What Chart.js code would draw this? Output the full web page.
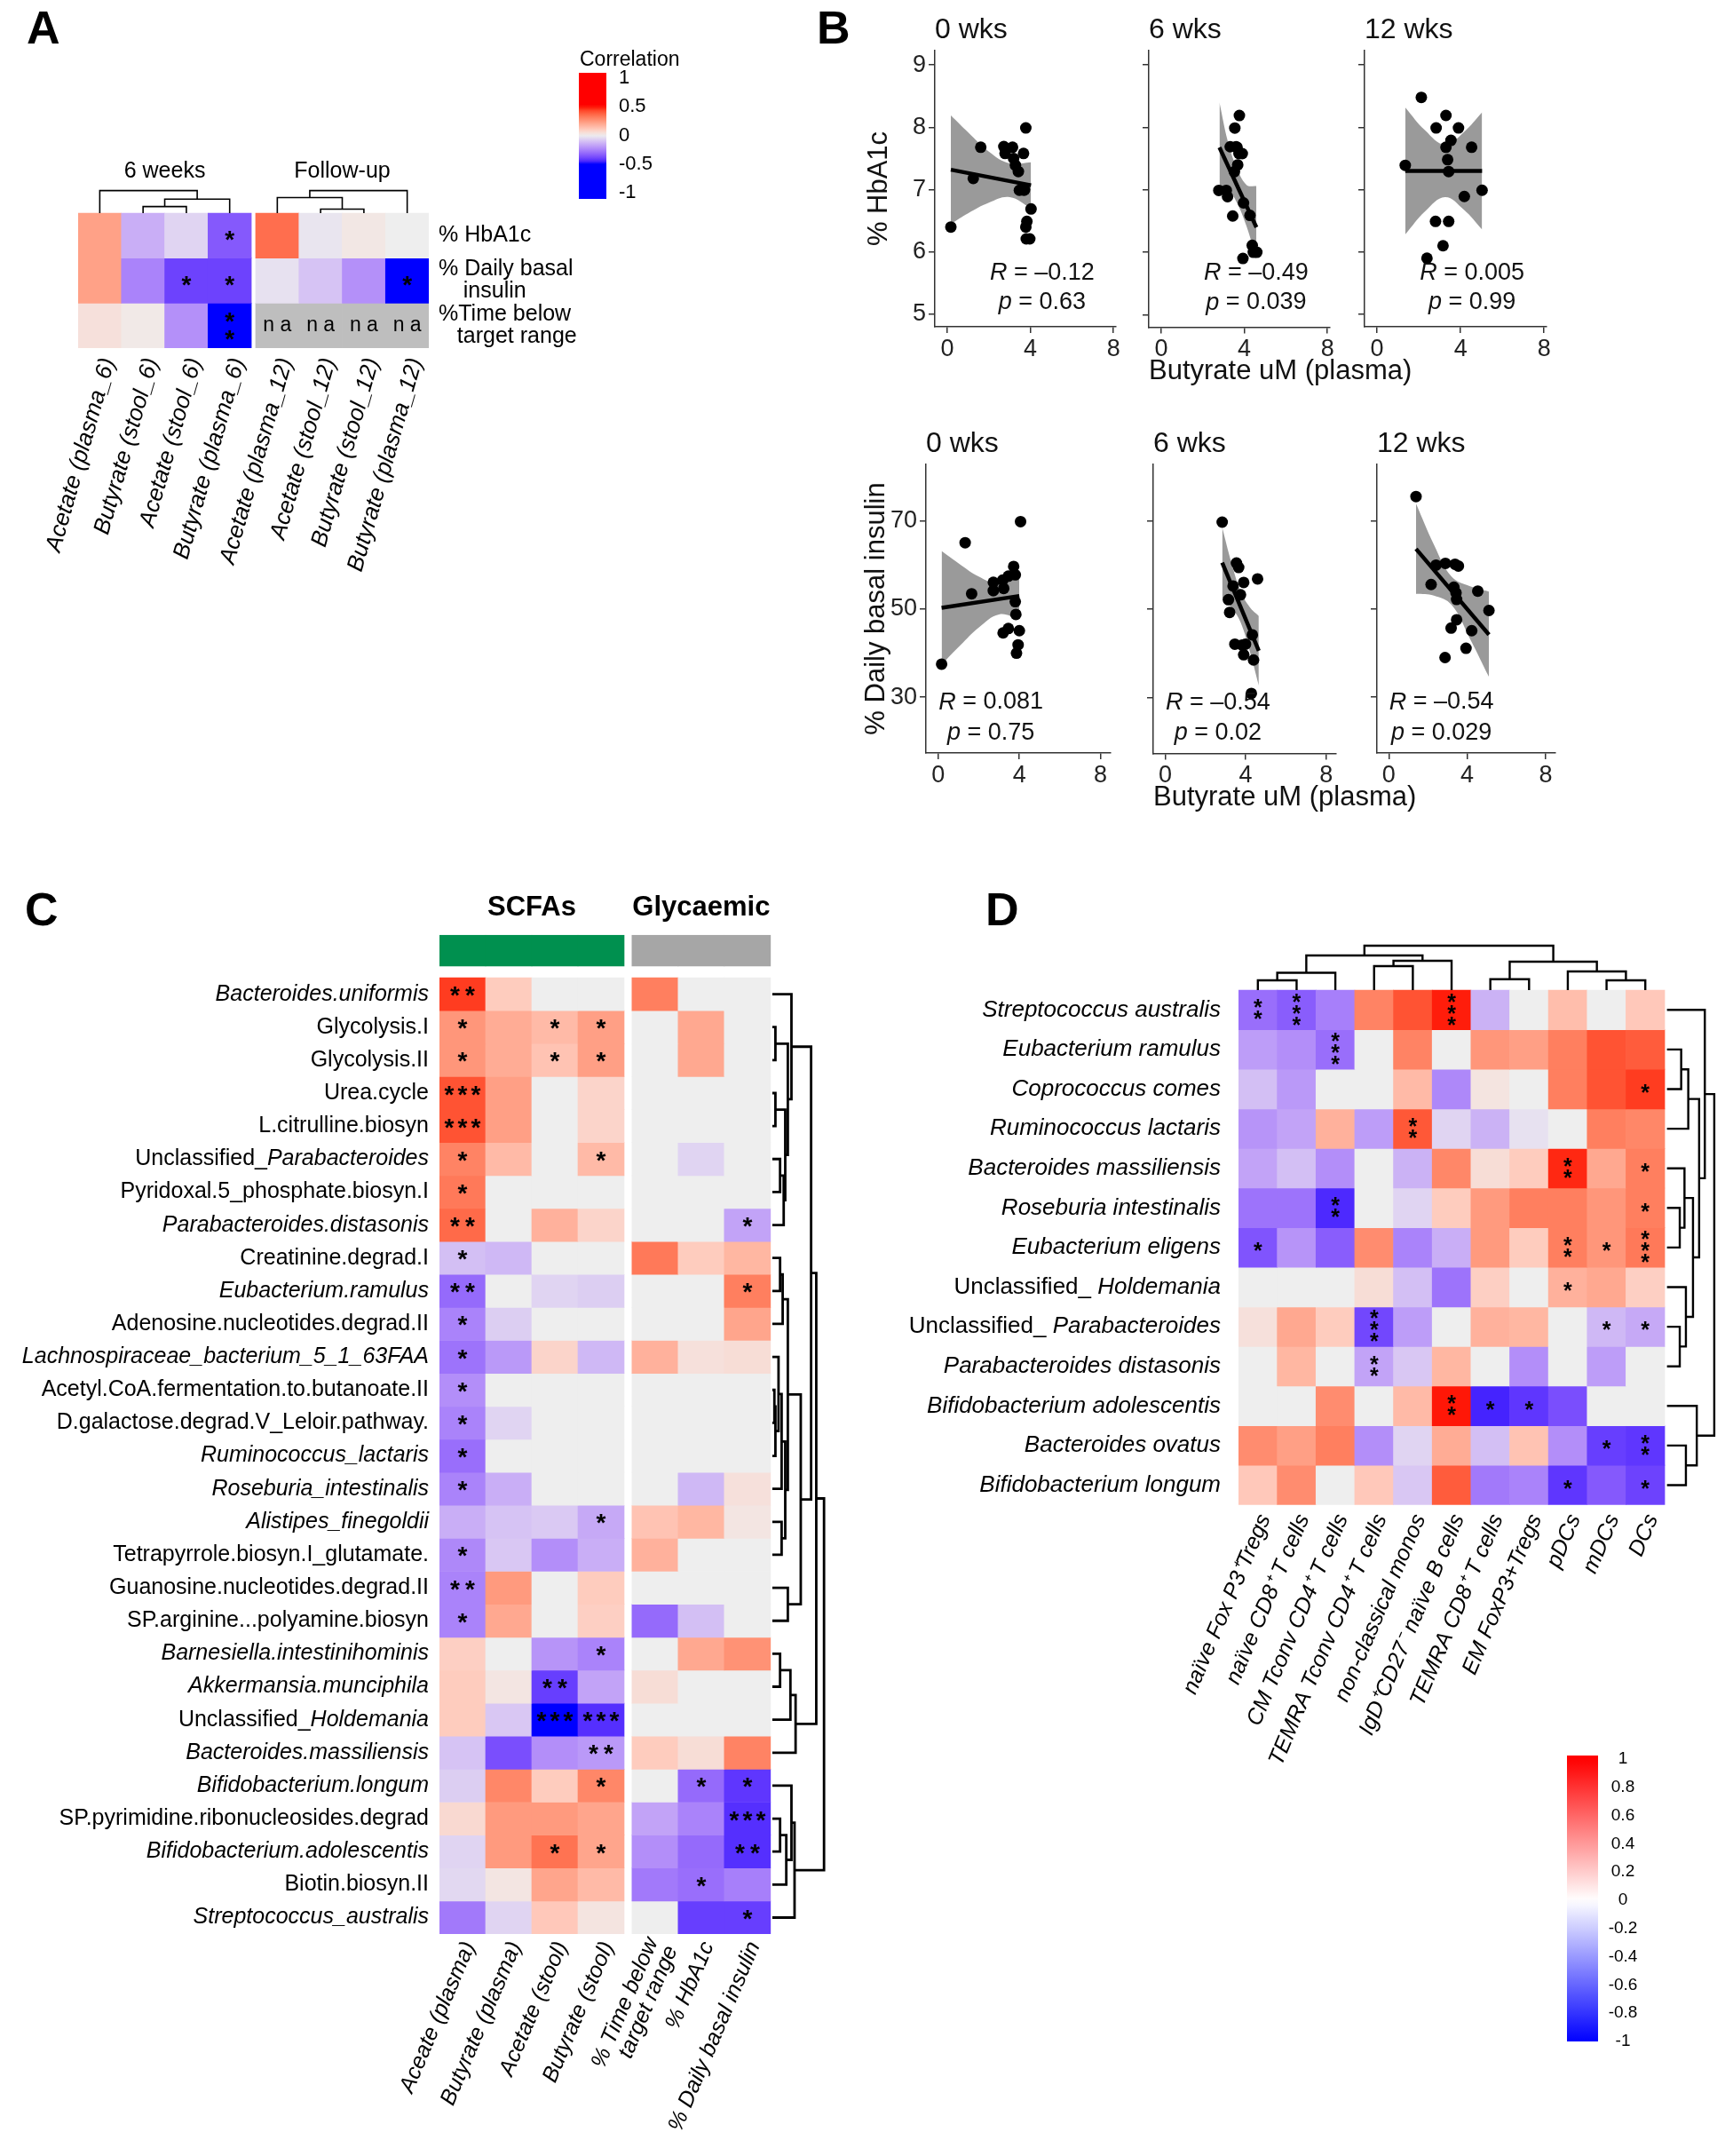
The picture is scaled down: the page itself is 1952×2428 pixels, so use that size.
<!DOCTYPE html>
<html>
<head>
<meta charset="utf-8">
<script src="https://cdn.jsdelivr.net/npm/chart.js@4.4.1/dist/chart.umd.min.js"></script>
<style>
  body { margin: 0; background: #fff; }
  #page { position: relative; width: 1952px; height: 2428px; overflow: hidden; background: #fff;
          font-family: "Liberation Sans", Arial, sans-serif; }
  canvas { position: absolute; }
  .tag { position: absolute; font-weight: bold; font-size: 52px; line-height: 1; color: #000; }
</style>
</head>
<body>
<div id="page">
  <div class="tag" style="left:30px;top:5px">A</div>
  <div class="tag" style="left:920px;top:5px">B</div>
  <div class="tag" style="left:28px;top:998px">C</div>
  <div class="tag" style="left:1110px;top:998px">D</div>
</div>
<script>
// ---------- Panel A: correlation heatmap ----------
const aCols = ["Acetate (plasma_6)", "Butyrate (stool_6)", "Acetate (stool_6)", "Butyrate (plasma_6)",
               "Acetate (plasma_12)", "Acetate (stool_12)", "Butyrate (stool_12)", "Butyrate (plasma_12)"];
const aColGroup = [0, 0, 0, 0, 1, 1, 1, 1];
const aGroups = ["6 weeks", "Follow-up"];
const aRows = ["% HbA1c", "% Daily basal\n    insulin", "%Time below\n   target range"];
const aHbA1c = [0.22, -0.15, -0.06, -0.35, 0.35, -0.02, 0.02, 0.0];
const aBasal = [0.22, -0.25, -0.4, -0.4, -0.03, -0.1, -0.22, -0.55];
const aTimeBelow = [0.04, 0.015, -0.22, -0.6, null, null, null, null];
const aStars = [["", "", "", "*", "", "", "", ""],
                ["", "", "*", "*", "", "", "", "*"],
                ["", "", "", "**", "na", "na", "na", "na"]];
const aTree6wk = [[1, 2, 0.29], [4, 3, 0.62], [0, 5, 1]];
const aTreeFollow = [[1, 2, 0.18], [0, 4, 0.69], [5, 3, 1]];
const aLegendTicks = [1, 0.5, 0, -0.5, -1];

// ---------- Panel B: butyrate vs glycaemic measures ----------
const bWeeks = ["0 wks", "6 wks", "12 wks"];
const bXTicks = [0, 4, 8];
const hbTicks = [5, 6, 7, 8, 9];
const insTicks = [30, 50, 70];
const hb0x = [0.17, 1.25, 1.61, 2.72, 2.78, 3.14, 3.19, 3.28, 3.42, 3.47, 3.67, 3.78, 3.69, 3.83, 3.78, 4.03, 3.97, 3.8, 3.72];
const hb0y = [6.40, 7.18, 7.68, 7.69, 7.58, 7.68, 7.50, 7.39, 7.29, 6.99, 7.58, 7.99, 6.99, 6.49, 6.40, 6.69, 6.21, 6.21, 7.0];
const hb6x = [2.77, 3.13, 3.19, 3.44, 3.32, 3.6, 3.65, 3.74, 3.9, 3.54, 3.76, 3.68, 3.52, 3.96, 4.27, 3.93, 4.38, 4.43, 4.6];
const hb6y = [6.99, 6.99, 6.89, 6.58, 7.69, 7.69, 7.68, 7.58, 7.58, 7.99, 8.19, 7.40, 7.29, 6.79, 6.59, 5.90, 6.11, 6.0, 6.0];
const hb12x = [1.35, 2.12, 2.83, 3.3, 3.9, 3.54, 3.3, 3.38, 3.43, 4.53, 5.03, 4.18, 2.8, 3.43, 3.16, 2.39];
const hb12y = [7.39, 8.48, 7.99, 8.19, 7.99, 7.79, 7.68, 7.48, 7.29, 7.68, 6.99, 6.89, 6.49, 6.49, 6.10, 5.90];
const ins0x = [0.17, 1.33, 1.65, 2.72, 2.72, 3.18, 3.23, 3.46, 3.72, 3.8, 3.8, 3.83, 3.2, 3.46, 4.0, 3.94, 3.86, 4.06];
const ins0y = [37.5, 65.1, 53.5, 56.1, 54.2, 56.6, 54.7, 57.5, 59.7, 57.8, 51.7, 48.8, 44.6, 45.6, 45.1, 41.9, 40.0, 69.9];
const ins6x = [2.83, 3.54, 3.65, 3.9, 4.59, 3.37, 3.74, 3.14, 3.2, 3.46, 3.82, 3.99, 3.9, 4.33, 4.39, 4.28];
const ins6y = [69.8, 60.5, 59.5, 56.1, 56.9, 55.3, 53.3, 52.2, 49.3, 42.1, 41.9, 42.1, 39.7, 44.2, 38.5, 30.9];
const ins12x = [1.39, 2.16, 2.41, 2.89, 3.38, 3.55, 3.32, 3.43, 3.46, 4.54, 5.11, 3.46, 3.18, 4.23, 3.94, 2.87];
const ins12y = [75.6, 55.6, 60.0, 60.4, 60.2, 59.8, 55.0, 53.7, 52.2, 54.1, 49.7, 47.6, 45.7, 45.1, 41.1, 39.0];
const hbFit = [[0.17, 7.32, 4.03, 7.07], [2.8, 7.68, 4.58, 6.40], [1.35, 7.30, 5.03, 7.30]];
const insFit = [[0.17, 50.3, 4.0, 53.0], [2.83, 60.6, 4.65, 40.6], [1.39, 63.7, 5.11, 44.2]];
const hbBandX = [[0.17, 1.0, 2.0, 3.0, 4.03], [2.8, 3.2, 3.6, 4.1, 4.58], [1.35, 2.3, 3.25, 4.15, 5.03]];
const hbBandHi = [[8.19, 7.92, 7.61, 7.42, 7.44], [8.40, 7.78, 7.38, 7.08, 7.06], [8.32, 7.95, 7.72, 7.92, 8.24]];
const hbBandLo = [[6.45, 6.62, 6.79, 6.88, 6.70], [6.96, 7.0, 6.82, 6.42, 5.88], [6.28, 6.65, 6.88, 6.68, 6.36]];
const insBandX = [[0.17, 1.1, 2.0, 3.0, 4.0], [2.83, 3.3, 3.75, 4.2, 4.65], [1.39, 2.3, 3.2, 4.15, 5.11]];
const insBandHi = [[63.2, 60.1, 57.4, 55.8, 58.3], [68.6, 60.4, 54.0, 50.5, 48.5], [74.0, 64.7, 57.4, 55.2, 54.0]];
const insBandLo = [[37.4, 41.8, 45.8, 48.8, 47.7], [52.6, 50.4, 47.0, 40.5, 32.7], [53.5, 53.1, 51.0, 43.2, 34.6]];
const hbR = ["\u20130.12", "\u20130.49", "0.005"];
const hbP = ["0.63", "0.039", "0.99"];
const insR = ["0.081", "\u20130.54", "\u20130.54"];
const insP = ["0.75", "0.02", "0.029"];

// ---------- Panel C: taxa/pathways vs SCFAs and glycaemic measures ----------
const cRows = ["*Bacteroides.uniformis*", "Glycolysis.I", "Glycolysis.II", "Urea.cycle", "L.citrulline.biosyn",
  "Unclassified_*Parabacteroides*", "Pyridoxal.5_phosphate.biosyn.I", "*Parabacteroides.distasonis*",
  "Creatinine.degrad.I", "*Eubacterium.ramulus*", "Adenosine.nucleotides.degrad.II",
  "*Lachnospiraceae_bacterium_5_1_63FAA*", "Acetyl.CoA.fermentation.to.butanoate.II",
  "D.galactose.degrad.V_Leloir.pathway.", "*Ruminococcus_lactaris*", "*Roseburia_intestinalis*",
  "*Alistipes_finegoldii*", "Tetrapyrrole.biosyn.I_glutamate.", "Guanosine.nucleotides.degrad.II",
  "SP.arginine...polyamine.biosyn", "*Barnesiella.intestinihominis*", "*Akkermansia.munciphila*",
  "Unclassified_*Holdemania*", "*Bacteroides.massiliensis*", "*Bifidobacterium.longum*",
  "SP.pyrimidine.ribonucleosides.degrad", "*Bifidobacterium.adolescentis*", "Biotin.biosyn.II",
  "*Streptococcus_australis*"];
const cCols = ["Aceate (plasma)", "Butyrate (plasma)", "Acetate (stool)", "Butyrate (stool)",
               "% Time below\ntarget range", "% HbA1c", "% Daily basal insulin"];
const cColGroup = [0, 0, 0, 0, 1, 1, 1];
const cGroups = ["SCFAs", "Glycaemic"];
const cValues = [
  [0.9, 0.2, 0, 0, 0.62, 0, 0],
  [0.5, 0.38, 0.3, 0.45, 0, 0.4, 0],
  [0.5, 0.38, 0.25, 0.45, 0, 0.4, 0],
  [0.82, 0.45, 0, 0.15, 0, 0, 0],
  [0.82, 0.45, 0, 0.15, 0, 0, 0],
  [0.6, 0.3, 0, 0.3, 0, -0.12, 0],
  [0.65, 0, 0, 0, 0, 0, 0],
  [0.72, 0, 0.35, 0.15, 0, 0, -0.35],
  [-0.22, -0.25, 0, 0, 0.65, 0.2, 0.32],
  [-0.62, 0, -0.12, -0.15, 0, 0, 0.62],
  [-0.5, -0.15, 0, 0, 0, 0, 0.42],
  [-0.58, -0.4, 0.15, -0.25, 0.35, 0.08, 0.1],
  [-0.45, 0, 0, 0, 0, 0, 0],
  [-0.5, -0.12, 0, 0, 0, 0, 0],
  [-0.6, 0, 0, 0, 0, 0, 0],
  [-0.5, -0.3, 0, 0, 0, -0.25, 0.08],
  [-0.3, -0.2, -0.17, -0.32, 0.25, 0.32, 0.05],
  [-0.48, -0.18, -0.45, -0.3, 0.35, 0, 0],
  [-0.5, 0.48, 0, 0.2, 0, 0, 0],
  [-0.5, 0.4, 0, 0.18, -0.62, -0.22, 0],
  [0.18, 0, -0.42, -0.5, 0, 0.4, 0.52],
  [0.2, 0.05, -0.82, -0.35, 0.1, 0, 0],
  [0.2, -0.18, -1, -0.88, 0, 0, 0],
  [-0.2, -0.75, -0.45, -0.4, 0.2, 0.1, 0.6],
  [-0.15, 0.58, 0.2, 0.58, 0, -0.62, -0.85],
  [0.12, 0.48, 0.48, 0.42, -0.35, -0.5, -0.88],
  [-0.12, 0.48, 0.68, 0.42, -0.45, -0.62, -0.88],
  [-0.1, 0.05, 0.42, 0.3, -0.55, -0.6, -0.52],
  [-0.55, -0.12, 0.22, 0.06, 0, -0.82, -0.82]
];
const cStars = [
  ["**", "", "", "", "", "", ""], ["*", "", "*", "*", "", "", ""], ["*", "", "*", "*", "", "", ""],
  ["***", "", "", "", "", "", ""], ["***", "", "", "", "", "", ""], ["*", "", "", "*", "", "", ""],
  ["*", "", "", "", "", "", ""], ["**", "", "", "", "", "", "*"], ["*", "", "", "", "", "", ""],
  ["**", "", "", "", "", "", "*"], ["*", "", "", "", "", "", ""], ["*", "", "", "", "", "", ""],
  ["*", "", "", "", "", "", ""], ["*", "", "", "", "", "", ""], ["*", "", "", "", "", "", ""],
  ["*", "", "", "", "", "", ""], ["", "", "", "*", "", "", ""], ["*", "", "", "", "", "", ""],
  ["**", "", "", "", "", "", ""], ["*", "", "", "", "", "", ""], ["", "", "", "*", "", "", ""],
  ["", "", "**", "", "", "", ""], ["", "", "***", "***", "", "", ""], ["", "", "", "**", "", "", ""],
  ["", "", "", "*", "", "*", "*"], ["", "", "", "", "", "", "***"], ["", "", "*", "*", "", "", "**"],
  ["", "", "", "", "", "*", ""], ["", "", "", "", "", "", "*"]
];
const cTree = [[1, 2, 0.06], [3, 4, 0.06], [5, 6, 0.15], [31, 7, 0.22], [30, 32, 0.25], [29, 33, 0.3],
  [0, 34, 0.37], [8, 9, 0.15], [36, 10, 0.2], [12, 13, 0.04], [38, 14, 0.06], [11, 39, 0.12],
  [40, 15, 0.18], [16, 17, 0.18], [41, 42, 0.25], [37, 43, 0.3], [18, 19, 0.3], [44, 45, 0.55],
  [35, 46, 0.75], [20, 21, 0.15], [48, 22, 0.35], [49, 23, 0.45], [47, 50, 0.85], [25, 26, 0.15],
  [52, 27, 0.27], [24, 53, 0.37], [54, 28, 0.43], [51, 55, 1]];

// ---------- Panel D: taxa vs immune cell subsets ----------
const dRows = ["*Streptococcus australis*", "*Eubacterium ramulus*", "*Coprococcus comes*",
  "*Ruminococcus lactaris*", "*Bacteroides massiliensis*", "*Roseburia intestinalis*", "*Eubacterium eligens*",
  "Unclassified_ *Holdemania*", "Unclassified_ *Parabacteroides*", "*Parabacteroides distasonis*",
  "*Bifidobacterium adolescentis*", "*Bacteroides ovatus*", "*Bifidobacterium longum*"];
const dCols = ["na\u00efve Fox P3\u207ATregs", "na\u00efve CD8\u207A T cells", "CM Tconv CD4\u207A T cells",
  "TEMRA Tconv CD4\u207A T cells", "non-classical monos", "IgD\u207ACD27\u207B na\u00efve B cells",
  "TEMRA CD8\u207A T cells", "EM FoxP3+Tregs", "pDCs", "mDCs", "DCs"];
const dValues = [
  [-0.6, -0.68, -0.52, 0.6, 0.82, 0.97, -0.28, 0, 0.28, 0, 0.22],
  [-0.38, -0.45, -0.6, 0, 0.6, 0, 0.5, 0.45, 0.62, 0.82, 0.78],
  [-0.22, -0.4, 0, 0, 0.3, -0.48, 0.06, 0, 0.62, 0.82, 0.9],
  [-0.42, -0.35, 0.35, -0.38, 0.8, -0.12, -0.28, -0.06, 0, 0.62, 0.58],
  [-0.35, -0.22, -0.45, 0, -0.28, 0.58, 0.1, 0.2, 0.95, 0.4, 0.62],
  [-0.58, -0.58, -0.9, 0, -0.12, 0.2, 0.48, 0.62, 0.62, 0.5, 0.62],
  [-0.72, -0.42, -0.68, 0.55, -0.5, -0.3, 0.48, 0.2, 0.62, 0.5, 0.65],
  [0, 0, 0, 0.1, -0.22, -0.58, 0.18, 0, 0.35, 0.4, 0.18],
  [0.08, 0.4, 0.2, -0.78, -0.38, 0, 0.35, 0.32, 0, -0.25, -0.32],
  [0, 0.32, 0, -0.35, -0.18, 0.32, 0, -0.45, 0, -0.38, 0],
  [0, 0, 0.55, 0, 0.3, 0.98, -0.92, -0.85, -0.75, 0, 0],
  [0.55, 0.45, 0.62, -0.45, -0.12, 0.38, -0.22, 0.25, -0.45, -0.82, -0.85],
  [0.22, 0.55, 0, 0.22, -0.18, 0.78, -0.55, -0.5, -0.85, -0.7, -0.8]
];
const dStars = [
  ["**", "***", "", "", "", "***", "", "", "", "", ""],
  ["", "", "***", "", "", "", "", "", "", "", ""],
  ["", "", "", "", "", "", "", "", "", "", "*"],
  ["", "", "", "", "**", "", "", "", "", "", ""],
  ["", "", "", "", "", "", "", "", "**", "", "*"],
  ["", "", "**", "", "", "", "", "", "", "", "*"],
  ["*", "", "", "", "", "", "", "", "**", "*", "***"],
  ["", "", "", "", "", "", "", "", "*", "", ""],
  ["", "", "", "***", "", "", "", "", "", "*", "*"],
  ["", "", "", "**", "", "", "", "", "", "", ""],
  ["", "", "", "", "", "**", "*", "*", "", "", ""],
  ["", "", "", "", "", "", "", "", "", "*", "**"],
  ["", "", "", "", "", "", "", "", "*", "", "*"]
];
const dColTree = [[0, 1, 0.22], [11, 2, 0.39], [3, 4, 0.54], [13, 5, 0.66], [12, 14, 0.78],
  [6, 7, 0.245], [9, 10, 0.22], [8, 17, 0.42], [16, 18, 0.64], [15, 19, 1]];
const dRowTree = [[1, 2, 0.3], [13, 3, 0.45], [5, 6, 0.27], [4, 15, 0.37], [8, 9, 0.27], [7, 17, 0.4],
  [16, 18, 0.55], [14, 19, 0.68], [0, 20, 0.8], [11, 12, 0.4], [10, 22, 0.63], [21, 23, 1]];
const dLegendTicks = [1, 0.8, 0.6, 0.4, 0.2, 0, -0.2, -0.4, -0.6, -0.8, -1];

// ---------- helpers ----------
const page = document.getElementById('page');
const FAMILY = '"Liberation Sans", Arial, sans-serif';
const font = (size, style) => (style ? style + ' ' : '') + size + 'px ' + FAMILY;
Chart.defaults.font.family = FAMILY;
Chart.defaults.color = '#1a1a1a';

function hexRgb(h) { return [1, 3, 5].map(i => parseInt(h.slice(i, i + 2), 16)); }
function lin(c) { c /= 255; return c <= 0.04045 ? c / 12.92 : Math.pow((c + 0.055) / 1.055, 2.4); }
function gam(c) { c = c <= 0.0031308 ? 12.92 * c : 1.055 * Math.pow(c, 1 / 2.4) - 0.055; return Math.round(Math.min(1, Math.max(0, c)) * 255); }
function toLab(hex) {
  const [r, g, b] = hexRgb(hex).map(lin);
  const f = t => t > 0.008856 ? Math.cbrt(t) : 7.787 * t + 16 / 116;
  const fx = f((r * 0.4124 + g * 0.3576 + b * 0.1805) / 0.95047);
  const fy = f(r * 0.2126 + g * 0.7152 + b * 0.0722);
  const fz = f((r * 0.0193 + g * 0.1192 + b * 0.9505) / 1.08883);
  return [116 * fy - 16, 500 * (fx - fy), 200 * (fy - fz)];
}
function fromLab(lab) {
  const fy = (lab[0] + 16) / 116, fx = fy + lab[1] / 500, fz = fy - lab[2] / 200;
  const inv = t => t * t * t > 0.008856 ? t * t * t : (t - 16 / 116) / 7.787;
  const x = inv(fx) * 0.95047, y = inv(fy), z = inv(fz) * 1.08883;
  return 'rgb(' + gam(x * 3.2406 - y * 1.5372 - z * 0.4986) + ',' +
    gam(-x * 0.9689 + y * 1.8758 + z * 0.0415) + ',' + gam(x * 0.0557 - y * 0.2040 + z * 1.0570) + ')';
}
function colorRamp(breaks, hexes) {
  const labs = hexes.map(toLab);
  return v => {
    if (v <= breaks[0]) return fromLab(labs[0]);
    for (let i = 1; i < breaks.length; i++) {
      if (v <= breaks[i]) {
        const t = (v - breaks[i - 1]) / (breaks[i] - breaks[i - 1]);
        return fromLab(labs[i - 1].map((c, k) => c + t * (labs[i][k] - c)));
      }
    }
    return fromLab(labs[labs.length - 1]);
  };
}
const colA = colorRamp([-0.5, 0, 0.5], ['#0000ff', '#eeeeee', '#ff0000']);
const colCD = colorRamp([-1, 0, 1], ['#0000ff', '#eeeeee', '#ff0000']);
function colDLegend(v) {
  const t = Math.min(1, Math.abs(v)), k = Math.round(255 * (1 - t));
  return v >= 0 ? `rgb(255,${k},${k})` : `rgb(${k},${k},255)`;
}

function addCanvas(x, y, w, h) {
  const cv = document.createElement('canvas');
  cv.width = Math.round(w); cv.height = Math.round(h);
  cv.style.left = Math.round(x) + 'px'; cv.style.top = Math.round(y) + 'px';
  page.appendChild(cv);
  return cv;
}

function cellSets(values, colX, colorFn) {
  return values.map((row, r) => ({
    type: 'bar',
    data: colX.map(x => ({ x, y: [r - 0.5, r + 0.5] })),
    backgroundColor: row.map(v => v === null ? '#bebebe' : colorFn(v)),
    borderWidth: 0, barPercentage: 1, categoryPercentage: 1, grouped: false, order: 2
  }));
}

function treeSets(merges, leafPos, toPoint, width) {
  const pos = leafPos.slice(), ht = leafPos.map(() => 0);
  return merges.map(([a, b, h]) => {
    const data = [toPoint(ht[a], pos[a]), toPoint(h, pos[a]), toPoint(h, pos[b]), toPoint(ht[b], pos[b])];
    pos.push((pos[a] + pos[b]) / 2); ht.push(h);
    return { type: 'line', data, borderColor: '#000', borderWidth: width, pointRadius: 0,
             fill: false, tension: 0, clip: false, order: 1 };
  });
}

function heatmap(box, cell, xr, yr, datasets, draw) {
  const area = [cell.left + (xr[0] + 0.5) * cell.w, cell.top + (yr[0] + 0.5) * cell.h,
                cell.left + (xr[1] + 0.5) * cell.w, cell.top + (yr[1] + 0.5) * cell.h];
  const cv = addCanvas(box[0], box[1], box[2], box[3]);
  const padding = { left: area[0] - Math.round(box[0]), top: area[1] - Math.round(box[1]),
                    right: Math.round(box[0]) + box[2] - area[2], bottom: Math.round(box[1]) + box[3] - area[3] };
  return new Chart(cv, {
    type: 'bar',
    data: { datasets },
    options: {
      responsive: false, animation: false, events: [],
      layout: { padding, autoPadding: false },
      scales: {
        x: { type: 'linear', display: false, offset: false, min: xr[0], max: xr[1], ticks: { count: 2 } },
        y: { type: 'linear', display: false, offset: false, min: yr[0], max: yr[1], reverse: true }
      },
      plugins: { legend: { display: false }, tooltip: { enabled: false } }
    },
    plugins: [{ id: 'heatText', afterDraw: draw }]
  });
}

function drawRich(ctx, text, x, y, align, size) {
  const parts = text.split('*').map((s, i) => [s, i % 2 === 1]).filter(p => p[0]);
  const fonts = parts.map(p => font(size, p[1] ? 'italic' : ''));
  const ws = parts.map((p, i) => { ctx.font = fonts[i]; return ctx.measureText(p[0]).width; });
  const total = ws.reduce((s, w) => s + w, 0);
  let sx = align === 'right' ? x - total : align === 'center' ? x - total / 2 : x;
  ctx.textAlign = 'left'; ctx.textBaseline = 'middle';
  parts.forEach((p, i) => { ctx.font = fonts[i]; ctx.fillText(p[0], sx, y); sx += ws[i]; });
}
function rotatedText(ctx, lines, x, y, deg, f, lineH) {
  ctx.save();
  ctx.translate(x, y); ctx.rotate(-deg * Math.PI / 180);
  ctx.font = f; ctx.textAlign = 'right'; ctx.textBaseline = 'middle';
  lines.forEach((s, i) => ctx.fillText(s, 0, (i - (lines.length - 1) / 2) * lineH));
  ctx.restore();
}
function stackStars(ctx, s, px, py, size, gap) {
  if (!s || s === 'na') return;
  ctx.font = font(size, 'bold'); ctx.textAlign = 'center'; ctx.textBaseline = 'middle';
  for (let i = 0; i < s.length; i++) ctx.fillText('*', px, py + (i - (s.length - 1) / 2) * gap + size * 0.22);
}
function rowStars(ctx, s, px, py, size, gap) {
  if (!s) return;
  ctx.font = font(size, 'bold'); ctx.textAlign = 'center'; ctx.textBaseline = 'middle';
  for (let i = 0; i < s.length; i++) ctx.fillText('*', px + (i - (s.length - 1) / 2) * gap, py + size * 0.1);
}
function colorBar(ctx, x0, y0, w, h, vTop, vBottom, colorFn) {
  const g = ctx.createLinearGradient(0, y0, 0, y0 + h);
  for (let i = 0; i <= 40; i++) g.addColorStop(i / 40, colorFn(vTop + (i / 40) * (vBottom - vTop)));
  ctx.fillStyle = g; ctx.fillRect(x0, y0, w, h);
}

// ---------- Panel A ----------
const aColX = aCols.map((_, i) => i + aColGroup[i] * 0.1);
const aValues = [aHbA1c, aBasal, aTimeBelow];
{
  const aTop = (h, p) => ({ x: p, y: -0.5 - h * 0.5 });
  const sets = cellSets(aValues, aColX, colA)
    .concat(treeSets(aTree6wk, aColX.slice(0, 4), aTop, 1.6))
    .concat(treeSets(aTreeFollow, aColX.slice(4), aTop, 1.6));
  heatmap([0, 0, 900, 720], { left: 88, top: 240, w: 48.77, h: 50.67 }, [-0.5, 7.6], [-1.03, 2.5], sets, chart => {
    const { ctx, scales: { x, y } } = chart;
    ctx.save(); ctx.fillStyle = '#000';
    ctx.font = font(25); ctx.textAlign = 'center'; ctx.textBaseline = 'middle';
    aGroups.forEach((g, gi) => {
      const xs = aColX.filter((_, i) => aColGroup[i] === gi);
      ctx.fillText(g, x.getPixelForValue((xs[0] + xs[xs.length - 1]) / 2), y.getPixelForValue(-1.0) - 22);
    });
    aValues.forEach((row, r) => row.forEach((v, c) => {
      const px = x.getPixelForValue(aColX[c]), py = y.getPixelForValue(r);
      if (aStars[r][c] === 'na') {
        ctx.font = font(23); ctx.textAlign = 'center'; ctx.textBaseline = 'middle';
        ctx.fillText('n a', px, py);
      } else stackStars(ctx, aStars[r][c], px, py, 28, 20);
    }));
    aRows.forEach((lab, r) => {
      const lines = lab.split('\n');
      ctx.font = font(25); ctx.textAlign = 'left'; ctx.textBaseline = 'middle';
      lines.forEach((s, i) => ctx.fillText(s, x.right + 11, y.getPixelForValue(r) + (i - (lines.length - 1) / 2) * 25));
    });
    aCols.forEach((lab, c) => rotatedText(ctx, [lab], x.getPixelForValue(aColX[c]) + 10,
      y.getPixelForValue(2.5) + 12, 74, font(26, 'italic'), 28));
    // legend
    ctx.font = font(23); ctx.textAlign = 'left'; ctx.textBaseline = 'middle';
    ctx.fillText('Correlation', 653, 68);
    colorBar(ctx, 652, 82, 31, 142, 1.09, -1.11, colA);
    ctx.fillStyle = '#000'; ctx.font = font(22);
    aLegendTicks.forEach(v => ctx.fillText(String(v), 697, 152.5 - 64.5 * v));
    ctx.restore();
  });
}

// ---------- Panel B ----------
const corrLabel = {
  id: 'corrLabel',
  afterDatasetsDraw(chart, args, o) {
    const { ctx, scales: { x, y } } = chart;
    const lines = [['R', ' = ' + o.r], ['p', ' = ' + o.p]];
    ctx.save(); ctx.fillStyle = '#111'; ctx.textBaseline = 'middle'; ctx.textAlign = 'left';
    const ws = lines.map(l => {
      ctx.font = font(27, 'italic'); const w1 = ctx.measureText(l[0]).width;
      ctx.font = font(27); return [w1, ctx.measureText(l[1]).width];
    });
    const maxW = Math.max(...ws.map(w => w[0] + w[1]));
    const cx = x.getPixelForValue(o.at[0]) + maxW / 2;
    [o.at[1], o.at[2]].forEach((yv, i) => {
      const sx = cx - (ws[i][0] + ws[i][1]) / 2, py = y.getPixelForValue(yv);
      ctx.font = font(27, 'italic'); ctx.fillText(lines[i][0], sx, py);
      ctx.font = font(27); ctx.fillText(lines[i][1], sx + ws[i][0], py);
    });
    if (o.xTitle) {
      ctx.fillStyle = '#111'; ctx.font = font(31);
      ctx.fillText(o.xTitle, chart.chartArea.left, chart.chartArea.bottom + 50);
    }
    ctx.restore();
  }
};

function scatterPanel(o) {
  const titleH = 32 * 1.2 + 4, pad = 4, padR = o.padR || 12;
  const left = o.x0 - o.yW - pad, top = o.y0 - titleH - pad;
  const cv = addCanvas(left, top, (o.x1 - o.x0) + o.yW + pad + padR, (o.y1 - o.y0) + titleH + o.xH + 2 * pad);
  const pts = (xs, ys) => xs.map((x, i) => ({ x, y: ys[i] }));
  const axisLook = {
    grid: { display: true, drawOnChartArea: false, drawTicks: true, tickLength: 7, color: '#333', lineWidth: 1.5 },
    border: { display: true, color: '#333', width: 1.5 }
  };
  new Chart(cv, {
    type: 'scatter',
    data: { datasets: [
      { data: pts(o.px, o.py), pointRadius: 6.5, backgroundColor: '#000', borderWidth: 0, order: 0 },
      { type: 'line', data: [{ x: o.fit[0], y: o.fit[1] }, { x: o.fit[2], y: o.fit[3] }],
        borderColor: '#000', borderWidth: 4.5, pointRadius: 0, order: 1 },
      { type: 'line', data: pts(o.bx, o.hi), borderColor: 'rgba(0,0,0,0)', pointRadius: 0,
        tension: 0.4, fill: '+1', backgroundColor: '#9a9a9a', order: 2 },
      { type: 'line', data: pts(o.bx, o.lo), borderColor: 'rgba(0,0,0,0)', pointRadius: 0,
        tension: 0.4, fill: false, order: 3 }
    ]},
    options: {
      responsive: false, animation: false, events: [],
      layout: { padding: { left: o.x0 - o.yW - Math.round(left), top: o.y0 - titleH - Math.round(top), right: padR, bottom: pad }, autoPadding: false },
      plugins: {
        legend: { display: false }, tooltip: { enabled: false },
        title: { display: true, text: o.title, align: 'start', fullSize: false, color: '#111',
                 font: { size: 32, weight: 'normal' }, padding: { top: 0, bottom: 4 } },
        corrLabel: { r: o.r, p: o.p, at: o.at, xTitle: o.xTitle }
      },
      scales: {
        x: Object.assign({ type: 'linear', min: o.xr[0], max: o.xr[1],
          afterBuildTicks: s => { s.ticks = bXTicks.map(v => ({ value: v })); },
          afterFit: s => { s.height = o.xH; },
          ticks: { font: { size: 27 }, color: '#222', padding: 2, maxRotation: 0 } }, axisLook),
        y: Object.assign({ type: 'linear', min: o.yr[0], max: o.yr[1],
          afterBuildTicks: s => { s.ticks = o.yTicks.map(v => ({ value: v })); },
          afterFit: s => { s.width = o.yW; },
          ticks: { font: { size: 27 }, color: '#222', padding: 3, callback: v => o.yTitle ? v : '' },
          title: { display: !!o.yTitle, text: o.yTitle || '', color: '#111',
                   font: { size: 31 }, padding: { top: 4, bottom: 4 } } }, axisLook)
      }
    },
    plugins: [corrLabel]
  });
}

const hbX = [hb0x, hb6x, hb12x], hbY = [hb0y, hb6y, hb12y];
const insX = [ins0x, ins6x, ins12x], insY = [ins0y, ins6y, ins12y];
const topCols = [[1053, 1257], [1294, 1498], [1537, 1742]];
const botCols = [[1043, 1251], [1299, 1505], [1551, 1752]];
bWeeks.forEach((wk, i) => {
  scatterPanel({
    x0: topCols[i][0], x1: topCols[i][1], y0: 57, y1: 368, yW: i === 0 ? 85 : 10, xH: i === 1 ? 72.6 : 48,
    padR: i === 1 ? 130 : 12, xr: [-0.6, 8.12], yr: [4.8, 9.23], yTicks: hbTicks, title: wk,
    px: hbX[i], py: hbY[i], fit: hbFit[i], bx: hbBandX[i], hi: hbBandHi[i], lo: hbBandLo[i],
    r: hbR[i], p: hbP[i], at: [2.05, 5.66, 5.19],
    yTitle: i === 0 ? '% HbA1c' : '', xTitle: i === 1 ? 'Butyrate uM (plasma)' : ''
  });
  scatterPanel({
    x0: botCols[i][0], x1: botCols[i][1], y0: 523, y1: 848, yW: i === 0 ? 78 : 10, xH: i === 1 ? 72.6 : 48,
    padR: i === 1 ? 130 : 12, xr: [-0.6, 8.5], yr: [17.3, 82.9], yTicks: insTicks, title: wk,
    px: insX[i], py: insY[i], fit: insFit[i], bx: insBandX[i], hi: insBandHi[i], lo: insBandLo[i],
    r: insR[i], p: insP[i], at: [0.02, 28.8, 21.9],
    yTitle: i === 0 ? '% Daily basal insulin' : '', xTitle: i === 1 ? 'Butyrate uM (plasma)' : ''
  });
});

// ---------- Panel C ----------
const cColX = cCols.map((_, i) => i + cColGroup[i] * 0.17);
{
  const groupColors = ['#00904f', '#a6a6a6'];
  const anno = { type: 'bar', data: cColX.map(x => ({ x, y: [-1.79, -0.85] })),
    backgroundColor: cColGroup.map(g => groupColors[g]), borderWidth: 0,
    barPercentage: 1, categoryPercentage: 1, grouped: false, order: 2 };
  const right = (h, p) => ({ x: 6.71 + h * 1.12, y: p });
  const sets = [anno].concat(cellSets(cValues, cColX, colCD))
    .concat(treeSets(cTree, cRows.map((_, i) => i), right, 2.8));
  heatmap([0, 990, 960, 1438], { left: 495, top: 1101, w: 52, h: 37.14 }, [-0.5, 7.9], [-1.8, 28.5], sets, chart => {
    const { ctx, scales: { x, y } } = chart;
    ctx.save(); ctx.fillStyle = '#000';
    ctx.font = font(31, 'bold'); ctx.textAlign = 'center'; ctx.textBaseline = 'middle';
    cGroups.forEach((g, gi) => {
      const xs = cColX.filter((_, i) => cColGroup[i] === gi);
      ctx.fillText(g, x.getPixelForValue((xs[0] + xs[xs.length - 1]) / 2), y.getPixelForValue(-1.79) - 31);
    });
    cStars.forEach((row, r) => row.forEach((s, c) =>
      rowStars(ctx, s, x.getPixelForValue(cColX[c]), y.getPixelForValue(r), 28, s.length === 3 ? 15 : 17)));
    cRows.forEach((lab, r) => drawRich(ctx, lab, x.getPixelForValue(-0.5) - 12, y.getPixelForValue(r), 'right', 25));
    cCols.forEach((lab, c) => rotatedText(ctx, lab.split('\n'), x.getPixelForValue(cColX[c]) + 8,
      y.getPixelForValue(28.5) + 10, 67, font(25, 'italic'), 24));
    ctx.restore();
  });
}

// ---------- Panel D ----------
{
  const top = (h, p) => ({ x: p, y: -0.5 - h * 1.12 });
  const right = (h, p) => ({ x: 10.56 + h * 1.22, y: p });
  const sets = cellSets(dValues, dCols.map((_, i) => i), colCD)
    .concat(treeSets(dColTree, dCols.map((_, i) => i), top, 2.4))
    .concat(treeSets(dRowTree, dRows.map((_, i) => i), right, 2.4));
  const ox = 960, oy = 990;
  heatmap([ox, oy, 992, 1438], { left: 1395, top: 1115, w: 43.64, h: 44.6 }, [-0.5, 11.85], [-1.67, 12.5], sets, chart => {
    const { ctx, scales: { x, y } } = chart;
    ctx.save(); ctx.fillStyle = '#000';
    dStars.forEach((row, r) => row.forEach((s, c) =>
      stackStars(ctx, s, x.getPixelForValue(c), y.getPixelForValue(r), 25, 13)));
    dRows.forEach((lab, r) => drawRich(ctx, lab, x.getPixelForValue(-0.5) - 20, y.getPixelForValue(r), 'right', 26));
    dCols.forEach((lab, c) => rotatedText(ctx, [lab], x.getPixelForValue(c) + 8,
      y.getPixelForValue(12.5) + 12, 67, font(25, 'italic'), 26));
    // legend
    colorBar(ctx, 1765 - ox, 1977 - oy, 35, 322, 1.025, -1.0, colDLegend);
    ctx.fillStyle = '#000'; ctx.font = font(19); ctx.textAlign = 'center'; ctx.textBaseline = 'middle';
    dLegendTicks.forEach(v => ctx.fillText(String(v), 1828 - ox, 2140 - 159 * v - oy));
    ctx.restore();
  });
}
</script>
</body>
</html>
